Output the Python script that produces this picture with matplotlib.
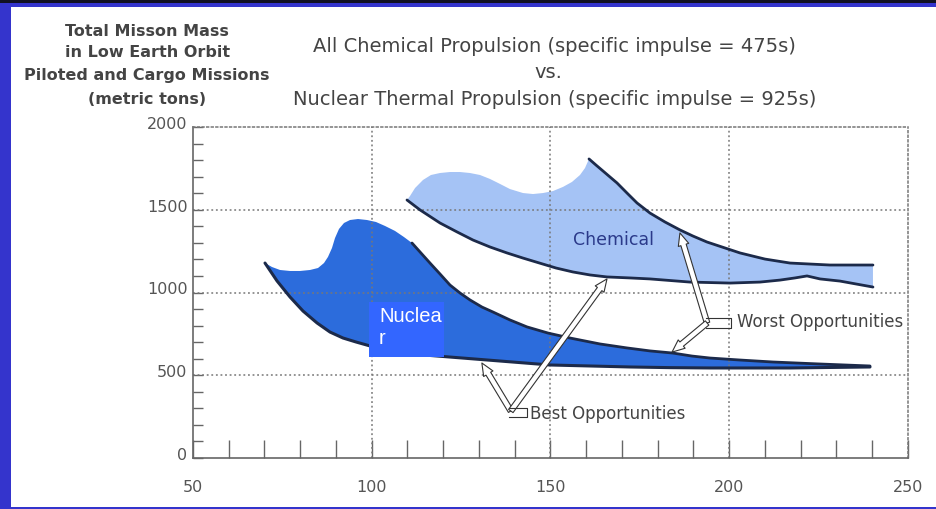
import numpy as np
import matplotlib.pyplot as plt
import matplotlib.transforms as mtransforms
from matplotlib.patches import FancyArrowPatch, Rectangle

# chemical band (light blue)
chem_top_x = [109.86, 110.70, 112.10, 114.34, 116.57, 119.09, 121.89, 124.69, 127.48, 130.28, 133.08,
              135.87, 138.67, 142.31, 145.10, 147.90, 150.70, 153.50, 156.01, 158.25, 159.65, 160.77]
chem_top_y = [1559, 1583, 1631, 1680, 1710, 1722, 1728, 1728, 1722, 1710, 1686,
              1656, 1625, 1601, 1595, 1601, 1613, 1638, 1668, 1710, 1752, 1807]
chem_upper_x = [160.77, 162.73, 164.69, 166.64, 168.60, 171.40, 174.20, 177.83, 182.03, 186.22,
                189.86, 193.78, 197.97, 203.01, 209.99, 216.99, 228.17, 240.20]
chem_upper_y = [1807, 1770, 1734, 1698, 1662, 1601, 1541, 1480, 1426, 1378,
                1341, 1305, 1275, 1239, 1202, 1178, 1166, 1166]
chem_lower_x = [109.86, 113.50, 119.09, 123.85, 128.32, 133.08, 137.83, 142.31, 146.92, 151.54,
                156.29, 161.05, 165.80, 172.24, 177.83, 189.02, 200.21, 208.60, 214.20, 218.39,
                221.75, 225.38, 230.98, 240.20]
chem_lower_y = [1559, 1499, 1420, 1366, 1317, 1275, 1239, 1208, 1178, 1148,
                1124, 1106, 1094, 1088, 1082, 1063, 1057, 1063, 1075, 1088,
                1100, 1082, 1069, 1033]

# nuclear band (dark blue)
nuc_top_x = [70.14, 72.10, 74.34, 77.13, 79.93, 82.73, 84.97, 86.64, 87.76, 88.88, 89.72,
             90.84, 92.24, 93.92, 96.15, 98.67, 101.19, 103.71, 106.50, 109.02, 111.26]
nuc_top_y = [1178, 1154, 1136, 1130, 1130, 1136, 1148, 1178, 1215, 1269, 1329,
             1384, 1420, 1438, 1444, 1438, 1426, 1402, 1372, 1335, 1299]
nuc_upper_x = [111.26, 113.50, 116.29, 119.09, 121.89, 124.69, 127.48, 130.84, 133.92, 138.67,
               143.43, 149.30, 155.45, 163.85, 171.40, 177.83, 184.27, 189.58, 194.62, 203.01,
               212.24, 225.38, 239.37]
nuc_upper_y = [1299, 1245, 1178, 1112, 1045, 997, 955, 912, 882, 834,
               792, 755, 725, 689, 665, 647, 634, 616, 604, 592,
               580, 568, 556]
nuc_lower_x = [70.14, 73.50, 77.13, 80.77, 84.69, 88.32, 91.96, 95.59, 99.52, 103.71, 107.90,
               114.90, 121.89, 128.88, 135.87, 142.87, 149.86, 161.05, 172.24, 183.43, 194.62,
               216.99, 239.37]
nuc_lower_y = [1178, 1070, 973, 888, 816, 761, 725, 701, 677, 659, 640,
               622, 610, 598, 586, 574, 562, 556, 550, 546, 544,
               544, 550]

# arrow annotations: (junction, tip)
best_from = (138.9, 284)
best_tips = [(130.8, 574), (165.8, 1082)]
worst_from = (193.8, 816)
worst_tips = [(186.2, 1360), (184.0, 640)]

x_major = [50, 100, 150, 200, 250]
y_major = [0, 500, 1000, 1500, 2000]

gray = "#444444"
line_col = "#1c2a4a"
dot = (0, (1.2, 1.8))

fig = plt.figure(figsize=(9.37, 5.09), dpi=100)
fig.patch.set_facecolor("#3434cc")
# white slide area
fig.patches.append(Rectangle((11 / 937, 2 / 509), 1, 500 / 509, transform=fig.transFigure,
                             facecolor="white", edgecolor="none", zorder=0))
fig.patches.append(Rectangle((0, 506 / 509), 1, 3 / 509, transform=fig.transFigure,
                             facecolor="#111122", edgecolor="none", zorder=0))

ax = fig.add_axes([193 / 937, 1 - 458 / 509, 715 / 937, 331 / 509])
ax.set_zorder(2)
ax.set_facecolor("white")
ax.set_xlim(50, 250)
ax.set_ylim(0, 2000)

# fills
chem_px = chem_top_x + chem_upper_x[1:] + chem_lower_x[::-1][:-1]
chem_py = chem_top_y + chem_upper_y[1:] + chem_lower_y[::-1][:-1]
ax.fill(chem_px, chem_py, color="#a5c3f5", lw=0, zorder=1)
nuc_px = nuc_top_x + nuc_upper_x[1:] + nuc_lower_x[::-1][:-1]
nuc_py = nuc_top_y + nuc_upper_y[1:] + nuc_lower_y[::-1][:-1]
ax.fill(nuc_px, nuc_py, color="#2c6cdc", lw=0, zorder=1)

ax.plot(chem_upper_x, chem_upper_y, color=line_col, lw=2, zorder=3, solid_capstyle="round")
ax.plot(chem_lower_x, chem_lower_y, color=line_col, lw=2, zorder=3, solid_capstyle="round")
ax.plot(nuc_upper_x, nuc_upper_y, color=line_col, lw=2, zorder=3, solid_capstyle="round")
ax.plot(nuc_lower_x, nuc_lower_y, color=line_col, lw=2.2, zorder=3, solid_capstyle="round")

# axes styling
ax.set_xticks(x_major)
ax.set_xticks(np.arange(50, 251, 10), minor=True)
ax.set_yticks(y_major)
ax.set_yticks(np.arange(0, 2001, 100), minor=True)
ax.tick_params(axis="x", which="both", direction="in", length=13, width=1, color="#666666",
               labelsize=11.5, labelcolor="#555555", pad=16)
ax.tick_params(axis="y", which="both", direction="in", length=7, width=1, color="#666666",
               labelsize=11.5, labelcolor="#555555", pad=4)
# dotted grid at the inner major ticks
for v in x_major[1:-1]:
    ax.axvline(v, linestyle=dot, color="#777777", lw=1.1, zorder=2.5)
for v in y_major[1:-1]:
    ax.axhline(v, linestyle=dot, color="#777777", lw=1.1, zorder=2.5)
for s in ["left", "bottom"]:
    ax.spines[s].set_color("#666666")
    ax.spines[s].set_linewidth(1.2)
for s in ["top", "right"]:
    ax.spines[s].set_color("#777777")
    ax.spines[s].set_linestyle(dot)
    ax.spines[s].set_linewidth(1.1)
off = mtransforms.ScaledTranslation(0, 0.04, fig.dpi_scale_trans)
for lbl in ax.get_yticklabels():
    lbl.set_transform(lbl.get_transform() + off)

# labels inside
ax.text(167.5, 1317, "Chemical", color="#2b3a8a", fontsize=12.5, ha="center", va="center", zorder=4)
ax.add_patch(Rectangle((99.2, 610), 21.0, 333, facecolor="#3366ff", edgecolor="none", zorder=4))
ax.text(102.0, 915, "Nuclea\nr", color="white", fontsize=14.5, family="Liberation Sans",
        ha="left", va="top", linespacing=1.2, zorder=5)

# hollow arrows
def hollow_arrow(p0, p1):
    a = FancyArrowPatch(p0, p1, arrowstyle="simple,head_length=0.75,head_width=0.65,tail_width=0.33",
                        mutation_scale=12, facecolor="white", edgecolor="#333333", lw=0.8,
                        shrinkA=0, shrinkB=0, zorder=6)
    ax.add_patch(a)

for tip in best_tips:
    hollow_arrow(best_from, tip)
for tip in worst_tips:
    hollow_arrow(worst_from, tip)
ax.plot([138.4, 143.4, 143.4, 138.4], [300, 300, 250, 250], color="#333333", lw=0.8, zorder=6)
ax.plot([193.4, 200.4, 200.4, 193.4], [846, 846, 785, 785], color="#333333", lw=0.8, zorder=6)
ax.text(144.3, 265, "Best Opportunities", color=gray, fontsize=12, ha="left", va="center", zorder=6)
ax.text(202.2, 822, "Worst Opportunities", color=gray, fontsize=12, ha="left", va="center", zorder=6)

# titles
for y, t in zip([0.939, 0.896, 0.851, 0.805],
                ["Total Misson Mass", "in Low Earth Orbit", "Piloted and Cargo Missions", "(metric tons)"]):
    fig.text(0.157, y, t, ha="center", va="center", fontsize=11.5, fontweight="bold", color=gray)
fig.text(0.592, 0.908, "All Chemical Propulsion (specific impulse = 475s)", ha="center", va="center",
         fontsize=14, color=gray)
fig.text(0.585, 0.857, "vs.", ha="center", va="center", fontsize=14, color=gray)
fig.text(0.592, 0.804, "Nuclear Thermal Propulsion (specific impulse = 925s)", ha="center", va="center",
         fontsize=14, color=gray)

fig.savefig("out.png", dpi=100, facecolor=fig.get_facecolor())
